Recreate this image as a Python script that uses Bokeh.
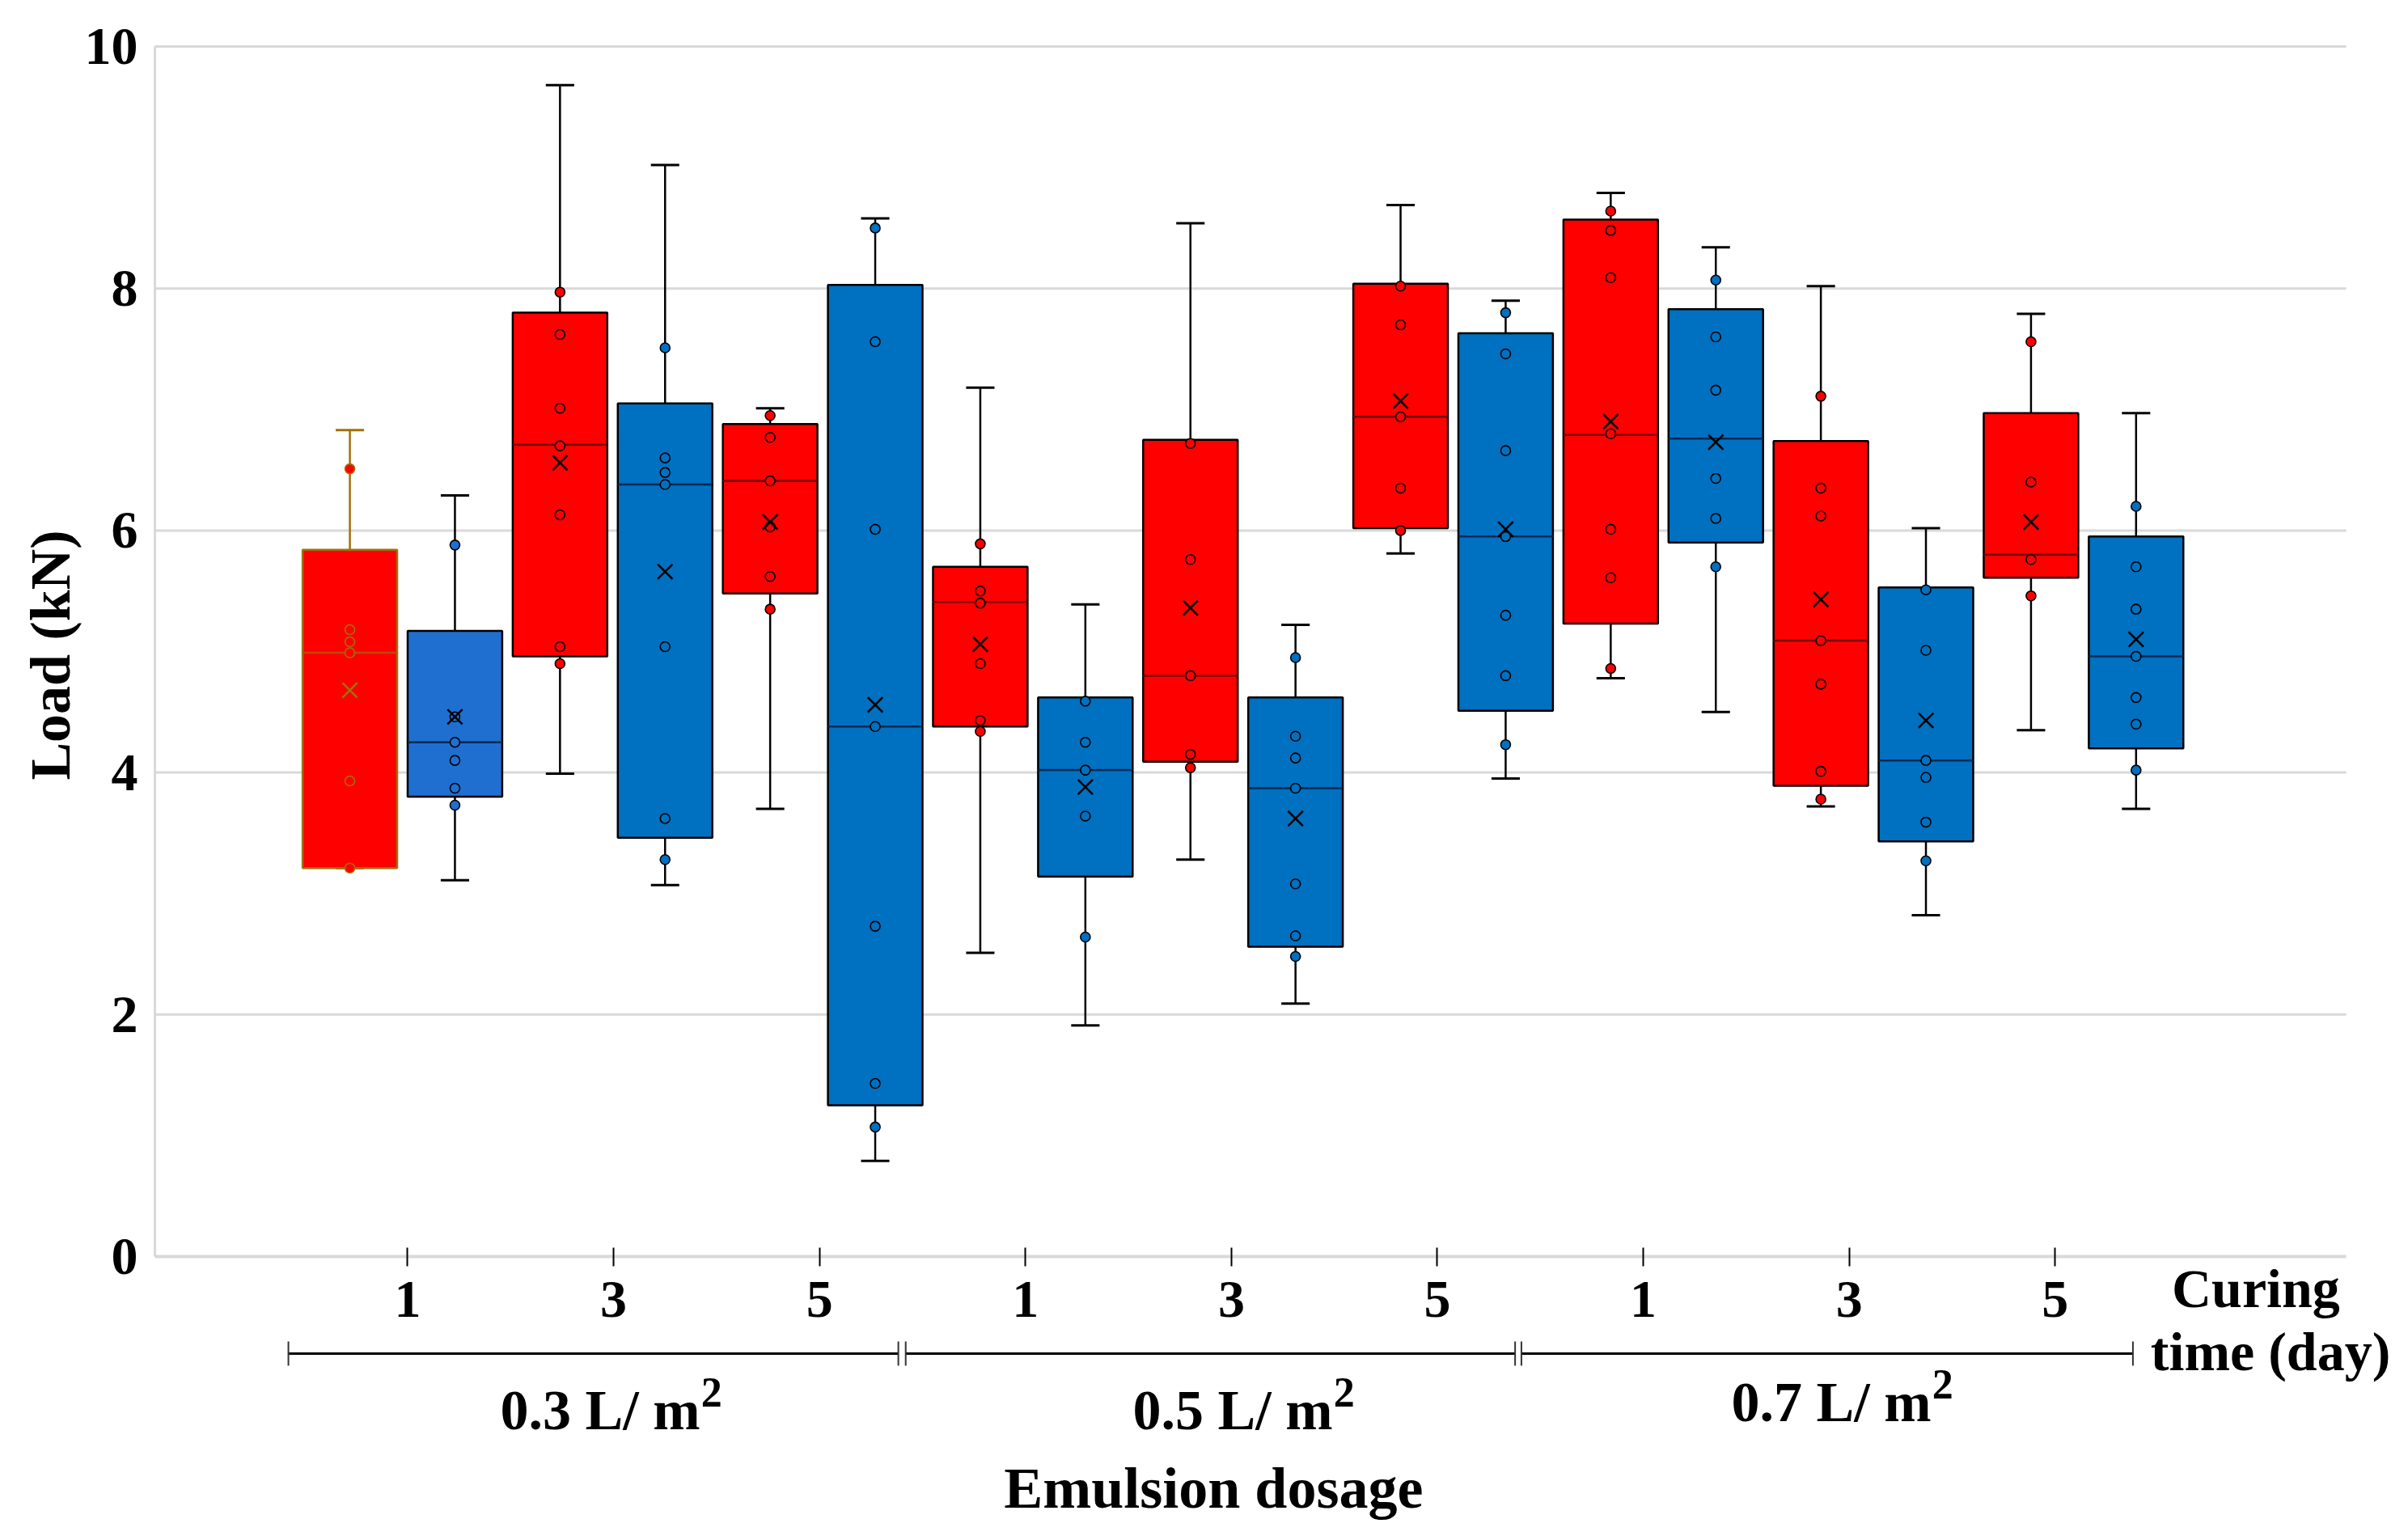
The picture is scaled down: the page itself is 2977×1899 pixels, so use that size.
from math import pi
from bokeh.plotting import figure
from bokeh.models import ColumnDataSource, FixedTicker, Range1d
from bokeh.core.properties import value
from bokeh.embed import file_html
from bokeh.resources import INLINE

# categories
dosages = ["0.3 L/ m", "0.5 L/ m", "0.7 L/ m"]
days = ["1", "3", "5"]
series = ["red", "blue"]

# box statistics, 18 boxes: (dosage, day) x (red, blue)
w_hi = [6.83, 6.29, 9.68, 9.02, 7.01, 8.58,
        7.18, 5.39, 8.54, 5.22, 8.69, 7.90,
        8.79, 8.34, 8.02, 6.02, 7.79, 6.97]
q3 = [5.84, 5.17, 7.80, 7.05, 6.88, 8.03,
      5.70, 4.62, 6.75, 4.62, 8.04, 7.63,
      8.57, 7.83, 6.74, 5.53, 6.97, 5.95]
med = [4.99, 4.25, 6.71, 6.38, 6.41, 4.38,
       5.41, 4.02, 4.80, 3.87, 6.94, 5.95,
       6.79, 6.76, 5.09, 4.10, 5.80, 4.96]
q1 = [3.21, 3.80, 4.96, 3.46, 5.48, 1.25,
      4.38, 3.14, 4.09, 2.56, 6.02, 4.51,
      5.23, 5.90, 3.89, 3.43, 5.61, 4.20]
w_lo = [3.21, 3.11, 3.99, 3.07, 3.70, 0.79,
        2.51, 1.91, 3.28, 2.09, 5.81, 3.95,
        4.78, 4.50, 3.72, 2.82, 4.35, 3.70]
mean = [4.68, 4.46, 6.56, 5.66, 6.07, 4.56,
        5.06, 3.88, 5.36, 3.62, 7.07, 6.01,
        6.90, 6.73, 5.43, 4.43, 6.07, 5.10]
points = [
    [6.51, 5.18, 5.08, 4.99, 3.93, 3.21],
    [5.88, 4.46, 4.25, 4.10, 3.87, 3.73],
    [7.97, 7.62, 7.01, 6.70, 6.13, 5.04, 4.90],
    [7.51, 6.60, 6.48, 6.38, 5.04, 3.62, 3.28],
    [6.95, 6.77, 6.41, 6.03, 5.62, 5.35],
    [8.50, 7.56, 6.01, 4.38, 2.73, 1.43, 1.07],
    [5.89, 5.50, 5.40, 4.90, 4.43, 4.34],
    [4.59, 4.25, 4.02, 3.64, 2.64],
    [6.72, 5.76, 4.80, 4.15, 4.04],
    [4.95, 4.30, 4.12, 3.87, 3.08, 2.65, 2.48],
    [8.02, 7.70, 6.94, 6.35, 6.00],
    [7.80, 7.46, 6.66, 5.95, 5.30, 4.80, 4.23],
    [8.64, 8.48, 8.09, 6.80, 6.01, 5.61, 4.86],
    [8.07, 7.60, 7.16, 6.43, 6.10, 5.70],
    [7.11, 6.35, 6.12, 5.09, 4.73, 4.01, 3.78],
    [5.51, 5.01, 4.10, 3.96, 3.59, 3.27],
    [7.56, 6.40, 5.76, 5.46],
    [6.20, 5.70, 5.35, 4.96, 4.62, 4.40, 4.02],
]

# styling
RED = "#ff0000"
BLUE = "#0070c0"
OLIVE = "#a0700a"
FONT = value("Liberation Serif")

n = len(q3)
xs = list(range(n))
fill = [RED if i % 2 == 0 else BLUE for i in xs]
fill[1] = "#1f6fd1"
edge = ["black"] * n
edge[0] = OLIVE
mid_col = ["#7a0000" if i % 2 == 0 else "#002a55" for i in xs]
mid_col[0] = "#c04a00"

BOX_W = 0.9
CAP_W = 0.27
AX_LEFT = -1.855
AX_RIGHT = 19.0
LIFT = 0.15  # text glyph baseline correction

p = figure(width=2960, height=1883,
           x_range=Range1d(-3.326, 19.461), y_range=Range1d(-2.206, 10.381),
           output_backend="svg", toolbar_location=None, tools="")
p.min_border_left = 0
p.min_border_right = 0
p.min_border_top = 0
p.min_border_bottom = 0
p.outline_line_color = None
p.xgrid.visible = False
p.ygrid.visible = False

# horizontal grid lines
grid_y = [2, 4, 6, 8, 10]
p.segment(x0=[AX_LEFT] * len(grid_y), x1=[AX_RIGHT] * len(grid_y), y0=grid_y, y1=grid_y,
          line_color="#d9d9d9", line_width=3)

# whiskers
p.segment(x0=xs, x1=xs, y0=q3, y1=w_hi, line_color=edge, line_width=2.5)
p.segment(x0=xs, x1=xs, y0=q1, y1=w_lo, line_color=edge, line_width=2.5)
cap_l = [x - CAP_W / 2 for x in xs]
cap_r = [x + CAP_W / 2 for x in xs]
p.segment(x0=cap_l, x1=cap_r, y0=w_hi, y1=w_hi, line_color=edge, line_width=3)
p.segment(x0=cap_l, x1=cap_r, y0=w_lo, y1=w_lo, line_color=edge, line_width=3)

# boxes
p.vbar(x=xs, width=BOX_W, top=q3, bottom=q1, fill_color=fill, line_color=edge, line_width=2.5)
p.segment(x0=[x - BOX_W / 2 for x in xs], x1=[x + BOX_W / 2 for x in xs], y0=med, y1=med,
          line_color=mid_col, line_width=2.5)

# inner points
px, py, pf, pl = [], [], [], []
for i, vals in enumerate(points):
    for v in vals:
        px.append(i)
        py.append(v)
        pf.append(fill[i])
        pl.append(edge[i])
pts = ColumnDataSource(dict(x=px, y=py, f=pf, l=pl))
p.scatter("x", "y", source=pts, marker="circle", size=12, fill_color="f", line_color="l", line_width=1.6)

# means
p.scatter(x=xs, y=mean, marker="x", size=26, line_color=edge, line_width=2.5)

# y axis
ya = p.yaxis[0]
ya.fixed_location = AX_LEFT
ya.bounds = (0, 10)
ya.ticker = FixedTicker(ticks=[0, 2, 4, 6, 8, 10], minor_ticks=[])
ya.axis_line_color = "#d9d9d9"
ya.axis_line_width = 3
ya.major_tick_in = 0
ya.major_tick_out = 0
ya.minor_tick_in = 0
ya.minor_tick_out = 0
ya.major_label_standoff = 21
ya.major_label_text_font = "Liberation Serif"
ya.major_label_text_font_style = "bold"
ya.major_label_text_font_size = "66px"
ya.major_label_text_color = "black"

# x axis: curing time ticks
tick_pos = [round(0.55 + 1.96 * i, 3) for i in range(9)]
xa = p.xaxis[0]
xa.fixed_location = 0
xa.bounds = (AX_LEFT, AX_RIGHT)
xa.ticker = FixedTicker(ticks=tick_pos, minor_ticks=[])
xa.major_label_overrides = {t: days[i % 3] for i, t in enumerate(tick_pos)}
xa.axis_line_color = "#d9d9d9"
xa.axis_line_width = 4
xa.major_tick_line_color = "black"
xa.major_tick_line_width = 2
xa.major_tick_in = 11
xa.major_tick_out = 12
xa.minor_tick_in = 0
xa.minor_tick_out = 0
xa.major_label_standoff = 20
xa.major_label_text_font = "Liberation Serif"
xa.major_label_text_font_style = "bold"
xa.major_label_text_font_size = "66px"
xa.major_label_text_color = "black"

# dosage brackets
BR_Y = -0.802
bracket_edges = [(-0.585, 5.22), (5.29, 11.09), (11.15, 16.97)]
p.segment(x0=[a for a, b in bracket_edges], x1=[b for a, b in bracket_edges],
          y0=[BR_Y] * 3, y1=[BR_Y] * 3, line_color="black", line_width=3)
ends = [e for ab in bracket_edges for e in ab]
p.segment(x0=ends, x1=ends, y0=[BR_Y - 0.1] * 6, y1=[BR_Y + 0.1] * 6, line_color="#333333", line_width=2)

txt = dict(text_font=FONT, text_font_style="bold", text_color="black")
# dosage labels with a raised "2"
lab_x = [3.333, 9.353, 15.05]
p.text(x=lab_x, y=[-1.417 + LIFT, -1.417 + LIFT, -1.35 + LIFT], text=dosages, text_font_size="70px",
       text_align="right", text_baseline="alphabetic", **txt)
p.text(x=[x + 0.01 for x in lab_x], y=[-1.27 + LIFT, -1.27 + LIFT, -1.203 + LIFT], text=["2", "2", "2"],
       text_font_size="52px", text_align="left", text_baseline="alphabetic", **txt)
p.text(x=[8.22], y=[-2.066 + LIFT], text=["Emulsion dosage"], text_font_size="72px",
       text_align="center", text_baseline="alphabetic", **txt)
p.text(x=[18.14, 18.28], y=[-0.414 + LIFT, -0.936 + LIFT], text=["Curing", "time (day)"],
       text_font_size="68px", text_align="center", text_baseline="alphabetic", **txt)
p.text(x=[-2.848], y=[4.97], text=["Load (kN)"], angle=pi / 2, text_font_size="70px",
       text_align="center", text_baseline="middle", **txt)

open("out.html", "w").write(file_html(p, INLINE))
